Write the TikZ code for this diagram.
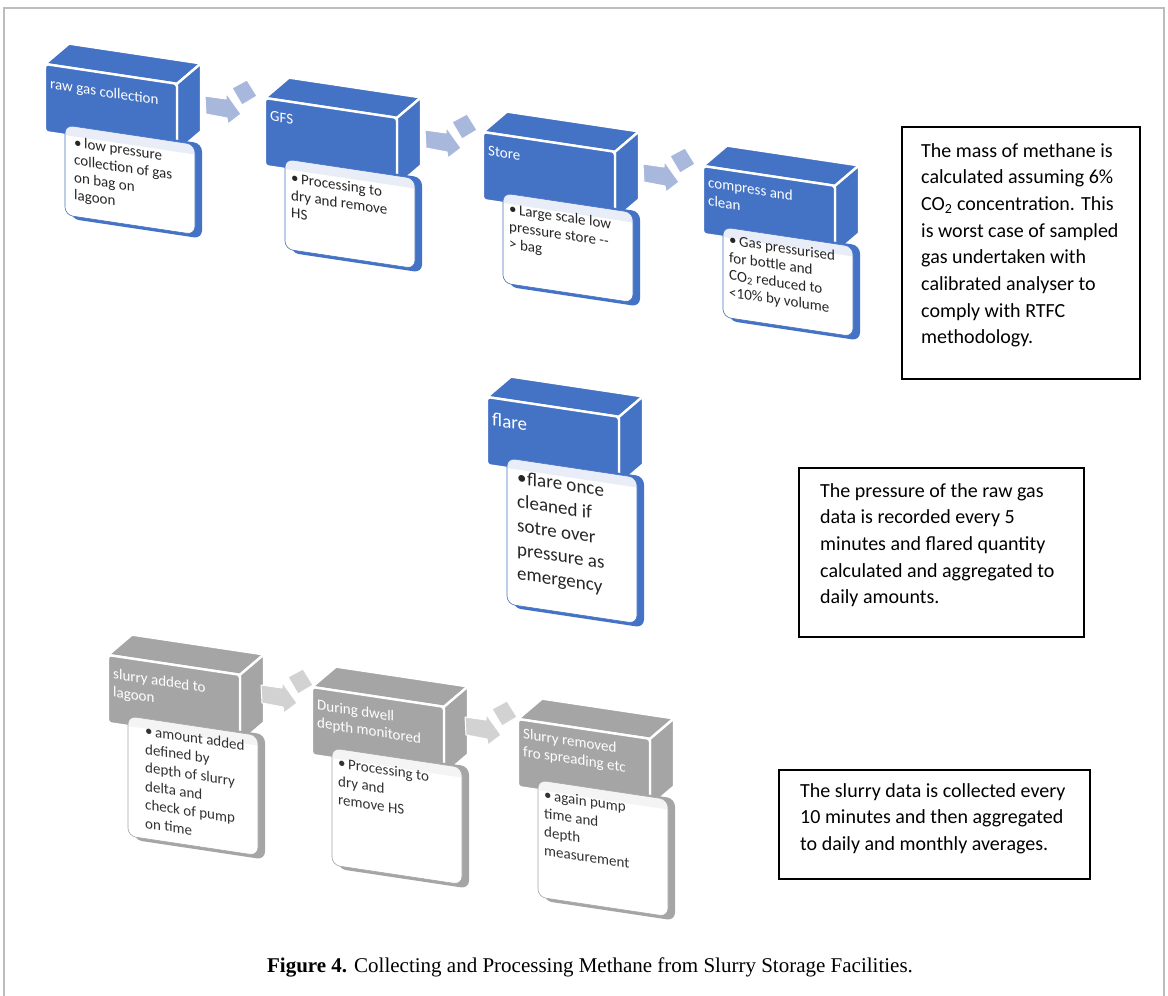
\documentclass[tikz,border=0pt]{standalone}
\usepackage{fontspec}
\setmainfont{Carlito}
\newfontfamily\capfont{Liberation Serif}
\definecolor{bblue}{HTML}{4472C4}
\definecolor{bgray}{HTML}{A5A5A5}
\definecolor{ablue}{HTML}{A8B8DC}
\definecolor{agray}{HTML}{D2D2D2}
\definecolor{framegray}{HTML}{BDBDBD}

\newcommand\bul[2][10pt]{\parbox[t]{220pt}{\raggedright\hangindent=#1\hangafter=1\noindent\makebox[#1][l]{\textbullet}#2}}

\def\hdry{23}
\tikzset{
  hdry/.store in=\hdry,
  hdrtext/.style={text=white, font=\fontsize{15}{18}\selectfont, inner sep=0pt, transform shape, anchor=base west},
  cardtext/.style={text=black!85, font=\fontsize{15}{17.5}\selectfont, inner sep=0pt, transform shape, anchor=base west},
  notebox/.style={draw=black, line width=1.3pt, inner sep=0pt},
  notetext/.style={text=black, font=\fontsize{20}{26.7}\selectfont, inner sep=0pt, anchor=base west},
  facestyle/.style={draw=white, line width=2.4pt, line join=round},
  arrowpiece/.style={draw=white, line width=1pt, line join=round}
}

\newcommand\Block[8][]{%
 \begin{scope}[shift={#3}, yslant=-0.15, #1]
  \coordinate (#2-o) at (0,0);
  \filldraw[#4, facestyle] (0,0) -- (132,0) -- (156,-24) -- (24,-24) -- cycle;
  \filldraw[#4, facestyle] (132,0) -- (156,-24) -- (156,44) -- (132,68) -- cycle;
  \filldraw[#4, facestyle, rounded corners=3pt] (0,0) rectangle (132,68);
  \fill[#4, rounded corners=8pt] (26,56) rectangle (157,{61+#7});
  \fill[white, rounded corners=8pt] (20,58) rectangle (150,{58+#7});
  \begin{scope}
    \clip[rounded corners=8pt] (20,58) rectangle (150,{58+#7});
    \fill[#4, opacity=0.12] (0,0) rectangle (158,68);
  \end{scope}
  \draw[#4, line width=0.6pt, rounded corners=8pt] (20,58) rectangle (150,{58+#7});
  \node[hdrtext] (#2-hdr) at (5,\hdry) {\parbox[t]{140pt}{\raggedright #5}};
  \node[cardtext] (#2-card) at #8 {\bul{#6}};
 \end{scope}}

\newcommand\Arrow[3][]{%
 \begin{scope}[shift={(#2-o)}, #1]
   \filldraw[#3, arrowpiece] (160,32) -- (181,35) -- (181,29) -- (196,50) -- (183,60) -- (182,54) -- (161,50) -- cycle;
   \filldraw[#3, arrowpiece] (187,24) -- (202,16) -- (212,32) -- (197,41) -- cycle;
 \end{scope}}

\begin{document}
\begin{tikzpicture}[x=1pt,y=-1pt]
\useasboundingbox (0,0) rectangle (1168,996);
\fill[white] (0,0) rectangle (1168,996);
\draw[framegray, line width=1.4pt] (4,996) -- (4,8) -- (1164,8) -- (1164,996);

% top row
\Block[hdry=24]{b1}{(45,64)}{bblue}{raw gas collection}{low pressure\\collection of gas\\on bag on\\lagoon}{90}{(29,79)}
\Block[hdry=22]{b2}{(265,98)}{bblue}{GFS}{Processing to\\dry and remove\\HS}{90}{(26,81)}
\Block[hdry=23]{b3}{(483,132)}{bblue}{Store}{Large scale low\\pressure store -{}-\\> bag}{90}{(26,78)}
\Block[hdry=21]{b4}{(703,166)}{bblue}{compress and\\clean}{Gas pressurised\\for bottle and\\CO\textsubscript{2} reduced to\\<10\% by volume}{90}{(26,75)}

% flare
\Block[hdry=28, hdrtext/.append style={font=\fontsize{19}{22}\selectfont}, cardtext/.append style={font=\fontsize{19}{24}\selectfont}]{fl}{(487,397)}{bblue}{flare}{flare once\\cleaned if\\sotre over\\pressure as\\emergency}{146}{(30,82)}

% gray row
\begin{scope}[cardtext/.append style={text=black!80, font=\fontsize{15}{18.5}\selectfont}]
\Block[hdry=23]{b5}{(108,655)}{bgray}{slurry added to\\lagoon}{amount added\\defined by\\depth of slurry\\delta and\\check of pump\\on time}{120}{(37,75)}
\Block[hdry=22]{b6}{(312,687)}{bgray}{During dwell\\depth monitored}{Processing to\\dry and\\remove HS}{117}{(26,77)}
\Block[hdry=19]{b7}{(518,719)}{bgray}{Slurry removed\\fro spreading etc}{again pump\\time and\\depth\\measurement}{117}{(26,77)}
\end{scope}

% arrows
\Arrow{b1}{ablue}
\Arrow{b2}{ablue}
\Arrow{b3}{ablue}
\Arrow[shift={(-7,-2)}]{b5}{agray}
\Arrow[shift={(-7,-2)}]{b6}{agray}

% notes
\node[notebox, minimum width=238pt, minimum height=252pt] (nb1) at (1021,253) {};
\node[notetext] (nt1) at (921,157) {\parbox[t]{230pt}{The mass of methane is\\calculated assuming 6\%\\CO\textsubscript{2} concentration. This\\is worst case of sampled\\gas undertaken with\\calibrated analyser to\\comply with RTFC\\methodology.}};

\node[notebox, minimum width=285pt, minimum height=169pt] (nb2) at (941.5,552.5) {};
\node[notetext] (nt2) at (820,497) {\parbox[t]{270pt}{The pressure of the raw gas\\data is recorded every 5\\minutes and flared quantity\\calculated and aggregated to\\daily amounts.}};

\node[notebox, minimum width=311pt, minimum height=109pt] (nb3) at (934.5,824.5) {};
\node[notetext] (nt3) at (800,797) {\parbox[t]{300pt}{The slurry data is collected every\\10 minutes and then aggregated\\to daily and monthly averages.}};

% caption
\node[font=\capfont\fontsize{21}{24}\selectfont, anchor=base, inner sep=0pt] (cap) at (590,972) {\textbf{Figure 4.} Collecting and Processing Methane from Slurry Storage Facilities.};
\end{tikzpicture}
\end{document}
